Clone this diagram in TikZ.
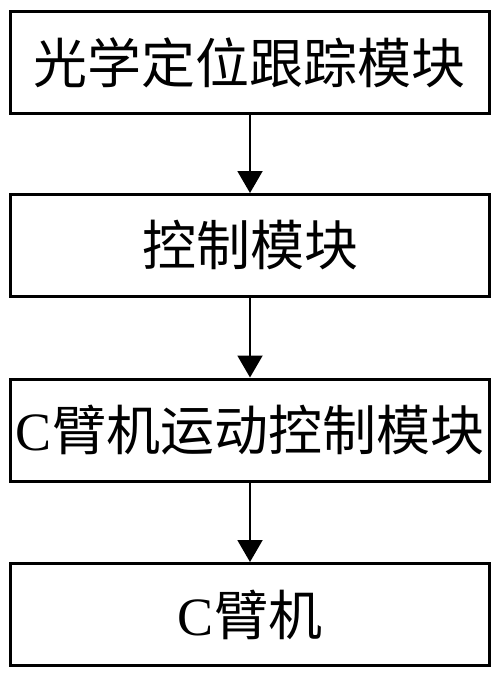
\documentclass[tikz,border=0pt]{standalone}
\usepackage{fontspec}
\newfontfamily\cjk{Noto Sans CJK SC}
\newfontfamily\lat{Liberation Serif}
\usetikzlibrary{arrows.meta}
\tikzset{
  modbox/.style={draw=black, line width=3pt, rectangle, inner sep=0pt,
    minimum width=479pt, minimum height=102pt, font=\fontsize{54}{60}\selectfont\cjk},
  flow/.style={draw=black, line width=2pt, -{Triangle[width=25pt,length=22pt]}}
}
\begin{document}
\begin{tikzpicture}[x=1pt,y=-1pt]
\useasboundingbox (0,0) rectangle (500,678);
\node[modbox] (b1) at (250,62.5) {光学定位跟踪模块};
\node[modbox] (b2) at (250,245.5) {控制模块};
\node[modbox] (b3) at (250,430) {{\lat C}臂机运动控制模块};
\node[modbox] (b4) at (250,614.5) {{\lat C}臂机};
\draw[flow] (b1) -- (b2);
\draw[flow] (b2) -- (b3);
\draw[flow] (b3) -- (b4);
\end{tikzpicture}
\end{document}
